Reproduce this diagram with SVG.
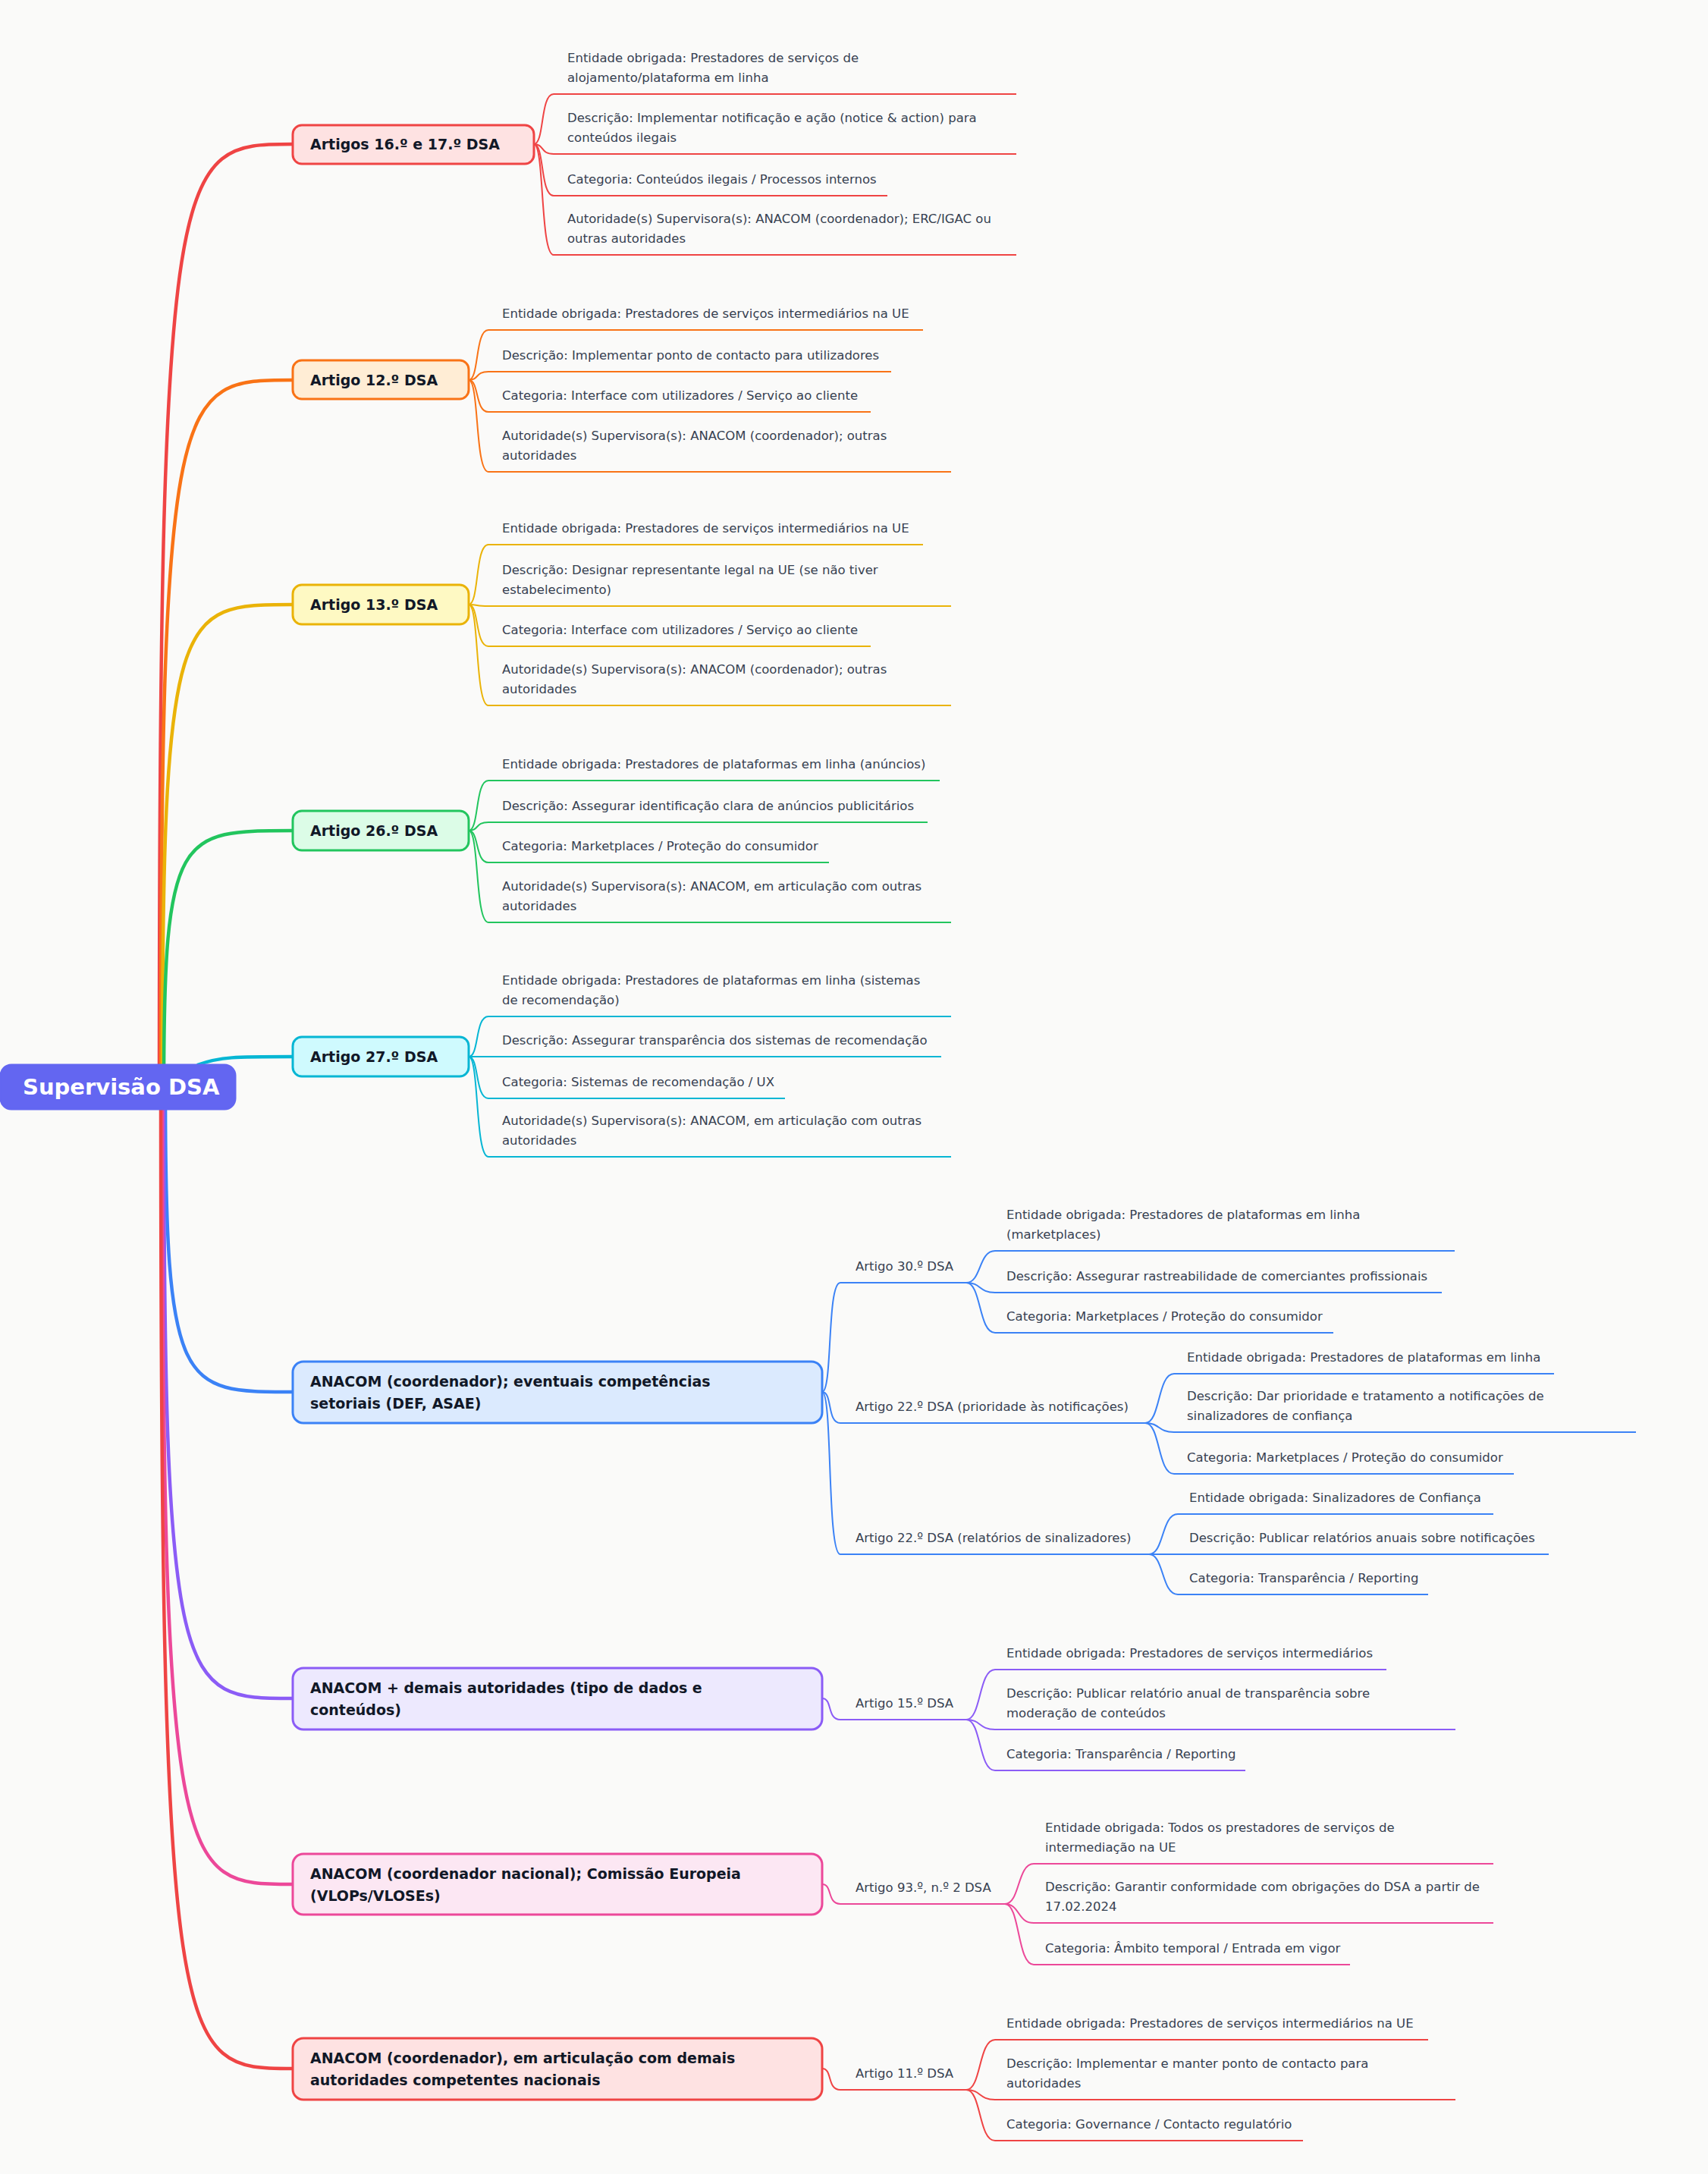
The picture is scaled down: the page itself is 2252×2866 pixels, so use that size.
<svg xmlns="http://www.w3.org/2000/svg" width="2252" height="2866" viewBox="0 0 2252 2866">
<style>
.t{font-family:"DejaVu Sans",sans-serif;font-size:16.5px;fill:#374151}
.n{font-family:"DejaVu Sans",sans-serif;font-size:19px;font-weight:bold;fill:#111827}
.r{font-family:"DejaVu Sans",sans-serif;font-size:29px;font-weight:bold;fill:#fff}
.c path{fill:none;stroke-width:2}
.c path.m{stroke-width:4.5}
rect{stroke-width:3}
</style>
<rect width="2252" height="2866" fill="#fafaf9"/>
<g class="c" id="connectors">
<path class="m" stroke="#ef4444" d="M210,1433 C210,190 230,190 386,190"/>
<path class="m" stroke="#f97316" d="M212,1433 C212,501 232,501 386,501"/>
<path class="m" stroke="#eab308" d="M214,1433 C214,797 234,797 386,797"/>
<path class="m" stroke="#22c55e" d="M216,1433 C216,1095 236,1095 386,1095"/>
<path class="m" stroke="#06b6d4" d="M260,1404 C290,1393 310,1393 386,1393"/>
<path class="m" stroke="#3b82f6" d="M218,1433 C218,1835 238,1835 386,1835"/>
<path class="m" stroke="#8b5cf6" d="M216,1433 C216,2239 236,2239 386,2239"/>
<path class="m" stroke="#ec4899" d="M214,1433 C214,2484 234,2484 386,2484"/>
<path class="m" stroke="#ef4444" d="M212,1433 C212,2727 232,2727 386,2727"/>
<g stroke="#ef4444">
<path d="M704,190 C718,190 712,124 730,124 L1340,124"/>
<path d="M704,190 C718,190 712,203 730,203 L1340,203"/>
<path d="M704,190 C718,190 712,258 730,258 L1170,258"/>
<path d="M704,190 C718,190 712,336 730,336 L1340,336"/>
</g>
<g stroke="#f97316">
<path d="M618,501 C632,501 626,435 644,435 L1217,435"/>
<path d="M618,501 C632,501 626,490 644,490 L1175,490"/>
<path d="M618,501 C632,501 626,543 644,543 L1148,543"/>
<path d="M618,501 C632,501 626,622 644,622 L1254,622"/>
</g>
<g stroke="#eab308">
<path d="M618,797 C632,797 626,718 644,718 L1217,718"/>
<path d="M618,797 C632,797 626,799 644,799 L1254,799"/>
<path d="M618,797 C632,797 626,852 644,852 L1148,852"/>
<path d="M618,797 C632,797 626,930 644,930 L1254,930"/>
</g>
<g stroke="#22c55e">
<path d="M618,1095 C632,1095 626,1029 644,1029 L1239,1029"/>
<path d="M618,1095 C632,1095 626,1084 644,1084 L1223,1084"/>
<path d="M618,1095 C632,1095 626,1137 644,1137 L1093,1137"/>
<path d="M618,1095 C632,1095 626,1216 644,1216 L1254,1216"/>
</g>
<g stroke="#06b6d4">
<path d="M618,1393 C632,1393 626,1340 644,1340 L1254,1340"/>
<path d="M618,1393 C632,1393 626,1393 644,1393 L1241,1393"/>
<path d="M618,1393 C632,1393 626,1448 644,1448 L1035,1448"/>
<path d="M618,1393 C632,1393 626,1525 644,1525 L1254,1525"/>
</g>
<g stroke="#3b82f6">
<path d="M1084,1835 C1098,1835 1090,1691 1108,1691 L1274,1691"/>
<path d="M1084,1835 C1098,1835 1090,1876 1108,1876 L1510,1876"/>
<path d="M1084,1835 C1098,1835 1090,2049 1108,2049 L1515,2049"/>
<path d="M1274,1691 C1294,1691 1290,1649 1312,1649 L1918,1649"/>
<path d="M1274,1691 C1294,1691 1290,1704 1312,1704 L1901,1704"/>
<path d="M1274,1691 C1294,1691 1290,1757 1312,1757 L1758,1757"/>
<path d="M1510,1876 C1530,1876 1526,1811 1548,1811 L2049,1811"/>
<path d="M1510,1876 C1530,1876 1526,1888 1548,1888 L2157,1888"/>
<path d="M1510,1876 C1530,1876 1526,1943 1548,1943 L1996,1943"/>
<path d="M1515,2049 C1535,2049 1531,1996 1553,1996 L1969,1996"/>
<path d="M1515,2049 C1535,2049 1531,2049 1553,2049 L2042,2049"/>
<path d="M1515,2049 C1535,2049 1531,2102 1553,2102 L1883,2102"/>
</g>
<g stroke="#8b5cf6">
<path d="M1084,2239 C1098,2239 1090,2267 1108,2267 L1274,2267"/>
<path d="M1274,2267 C1294,2267 1290,2201 1312,2201 L1828,2201"/>
<path d="M1274,2267 C1294,2267 1290,2280 1312,2280 L1919,2280"/>
<path d="M1274,2267 C1294,2267 1290,2334 1312,2334 L1642,2334"/>
</g>
<g stroke="#ec4899">
<path d="M1084,2484 C1098,2484 1090,2510 1108,2510 L1325,2510"/>
<path d="M1325,2510 C1345,2510 1341,2457 1363,2457 L1969,2457"/>
<path d="M1325,2510 C1345,2510 1341,2535 1363,2535 L1969,2535"/>
<path d="M1325,2510 C1345,2510 1341,2590 1363,2590 L1780,2590"/>
</g>
<g stroke="#ef4444">
<path d="M1084,2727 C1098,2727 1090,2755 1108,2755 L1274,2755"/>
<path d="M1274,2755 C1294,2755 1290,2689 1312,2689 L1883,2689"/>
<path d="M1274,2755 C1294,2755 1290,2768 1312,2768 L1919,2768"/>
<path d="M1274,2755 C1294,2755 1290,2822 1312,2822 L1718,2822"/>
</g>
</g>
<g id="root"><rect x="1" y="1404" width="309" height="58" rx="14" fill="#6366f1" stroke="#6366f1"/><text class="r" x="30" y="1443">Supervisão DSA</text></g>
<g id="n1"><rect x="386" y="165" width="318" height="51" rx="12" fill="#fee2e2" stroke="#ef4444"/><text class="n" x="409" y="197">Artigos 16.º e 17.º DSA</text></g>
<g id="n2"><rect x="386" y="475" width="232" height="51" rx="12" fill="#ffedd5" stroke="#f97316"/><text class="n" x="409" y="508">Artigo 12.º DSA</text></g>
<g id="n3"><rect x="386" y="771" width="232" height="52" rx="12" fill="#fef9c3" stroke="#eab308"/><text class="n" x="409" y="804">Artigo 13.º DSA</text></g>
<g id="n4"><rect x="386" y="1069" width="232" height="52" rx="12" fill="#dcfce7" stroke="#22c55e"/><text class="n" x="409" y="1102">Artigo 26.º DSA</text></g>
<g id="n5"><rect x="386" y="1367" width="232" height="52" rx="12" fill="#cffafe" stroke="#06b6d4"/><text class="n" x="409" y="1400">Artigo 27.º DSA</text></g>
<g id="n6"><rect x="386" y="1795" width="698" height="81" rx="14" fill="#dbeafe" stroke="#3b82f6"/><text class="n" x="409" y="1828">ANACOM (coordenador); eventuais competências</text><text class="n" x="409" y="1857">setoriais (DEF, ASAE)</text></g>
<g id="n7"><rect x="386" y="2199" width="698" height="81" rx="14" fill="#ede9fe" stroke="#8b5cf6"/><text class="n" x="409" y="2232">ANACOM + demais autoridades (tipo de dados e</text><text class="n" x="409" y="2261">conteúdos)</text></g>
<g id="n8"><rect x="386" y="2444" width="698" height="80" rx="14" fill="#fce7f3" stroke="#ec4899"/><text class="n" x="409" y="2477">ANACOM (coordenador nacional); Comissão Europeia</text><text class="n" x="409" y="2506">(VLOPs/VLOSEs)</text></g>
<g id="n9"><rect x="386" y="2687" width="698" height="81" rx="14" fill="#fee2e2" stroke="#ef4444"/><text class="n" x="409" y="2720">ANACOM (coordenador), em articulação com demais</text><text class="n" x="409" y="2749">autoridades competentes nacionais</text></g>
<g id="leaves1">
<text class="t" x="748" y="82">Entidade obrigada: Prestadores de serviços de</text><text class="t" x="748" y="108">alojamento/plataforma em linha</text>
<text class="t" x="748" y="161">Descrição: Implementar notificação e ação (notice &amp; action) para</text><text class="t" x="748" y="187">conteúdos ilegais</text>
<text class="t" x="748" y="242">Categoria: Conteúdos ilegais / Processos internos</text>
<text class="t" x="748" y="294">Autoridade(s) Supervisora(s): ANACOM (coordenador); ERC/IGAC ou</text><text class="t" x="748" y="320">outras autoridades</text>
</g>
<g id="leaves2">
<text class="t" x="662" y="419">Entidade obrigada: Prestadores de serviços intermediários na UE</text>
<text class="t" x="662" y="474">Descrição: Implementar ponto de contacto para utilizadores</text>
<text class="t" x="662" y="527">Categoria: Interface com utilizadores / Serviço ao cliente</text>
<text class="t" x="662" y="580">Autoridade(s) Supervisora(s): ANACOM (coordenador); outras</text><text class="t" x="662" y="606">autoridades</text>
</g>
<g id="leaves3">
<text class="t" x="662" y="702">Entidade obrigada: Prestadores de serviços intermediários na UE</text>
<text class="t" x="662" y="757">Descrição: Designar representante legal na UE (se não tiver</text><text class="t" x="662" y="783">estabelecimento)</text>
<text class="t" x="662" y="836">Categoria: Interface com utilizadores / Serviço ao cliente</text>
<text class="t" x="662" y="888">Autoridade(s) Supervisora(s): ANACOM (coordenador); outras</text><text class="t" x="662" y="914">autoridades</text>
</g>
<g id="leaves4">
<text class="t" x="662" y="1013">Entidade obrigada: Prestadores de plataformas em linha (anúncios)</text>
<text class="t" x="662" y="1068">Descrição: Assegurar identificação clara de anúncios publicitários</text>
<text class="t" x="662" y="1121">Categoria: Marketplaces / Proteção do consumidor</text>
<text class="t" x="662" y="1174">Autoridade(s) Supervisora(s): ANACOM, em articulação com outras</text><text class="t" x="662" y="1200">autoridades</text>
</g>
<g id="leaves5">
<text class="t" x="662" y="1298">Entidade obrigada: Prestadores de plataformas em linha (sistemas</text><text class="t" x="662" y="1324">de recomendação)</text>
<text class="t" x="662" y="1377">Descrição: Assegurar transparência dos sistemas de recomendação</text>
<text class="t" x="662" y="1432">Categoria: Sistemas de recomendação / UX</text>
<text class="t" x="662" y="1483">Autoridade(s) Supervisora(s): ANACOM, em articulação com outras</text><text class="t" x="662" y="1509">autoridades</text>
</g>
<g id="leaves6">
<text class="t" x="1128" y="1675">Artigo 30.º DSA</text>
<text class="t" x="1128" y="1860">Artigo 22.º DSA (prioridade às notificações)</text>
<text class="t" x="1128" y="2033">Artigo 22.º DSA (relatórios de sinalizadores)</text>
<text class="t" x="1327" y="1607">Entidade obrigada: Prestadores de plataformas em linha</text><text class="t" x="1327" y="1633">(marketplaces)</text>
<text class="t" x="1327" y="1688">Descrição: Assegurar rastreabilidade de comerciantes profissionais</text>
<text class="t" x="1327" y="1741">Categoria: Marketplaces / Proteção do consumidor</text>
<text class="t" x="1565" y="1795">Entidade obrigada: Prestadores de plataformas em linha</text>
<text class="t" x="1565" y="1846">Descrição: Dar prioridade e tratamento a notificações de</text><text class="t" x="1565" y="1872">sinalizadores de confiança</text>
<text class="t" x="1565" y="1927">Categoria: Marketplaces / Proteção do consumidor</text>
<text class="t" x="1568" y="1980">Entidade obrigada: Sinalizadores de Confiança</text>
<text class="t" x="1568" y="2033">Descrição: Publicar relatórios anuais sobre notificações</text>
<text class="t" x="1568" y="2086">Categoria: Transparência / Reporting</text>
</g>
<g id="leaves7">
<text class="t" x="1128" y="2251">Artigo 15.º DSA</text>
<text class="t" x="1327" y="2185">Entidade obrigada: Prestadores de serviços intermediários</text>
<text class="t" x="1327" y="2238">Descrição: Publicar relatório anual de transparência sobre</text><text class="t" x="1327" y="2264">moderação de conteúdos</text>
<text class="t" x="1327" y="2318">Categoria: Transparência / Reporting</text>
</g>
<g id="leaves8">
<text class="t" x="1128" y="2494">Artigo 93.º, n.º 2 DSA</text>
<text class="t" x="1378" y="2415">Entidade obrigada: Todos os prestadores de serviços de</text><text class="t" x="1378" y="2441">intermediação na UE</text>
<text class="t" x="1378" y="2493">Descrição: Garantir conformidade com obrigações do DSA a partir de</text><text class="t" x="1378" y="2519">17.02.2024</text>
<text class="t" x="1378" y="2574">Categoria: Âmbito temporal / Entrada em vigor</text>
</g>
<g id="leaves9">
<text class="t" x="1128" y="2739">Artigo 11.º DSA</text>
<text class="t" x="1327" y="2673">Entidade obrigada: Prestadores de serviços intermediários na UE</text>
<text class="t" x="1327" y="2726">Descrição: Implementar e manter ponto de contacto para</text><text class="t" x="1327" y="2752">autoridades</text>
<text class="t" x="1327" y="2806">Categoria: Governance / Contacto regulatório</text>
</g>
</svg>
